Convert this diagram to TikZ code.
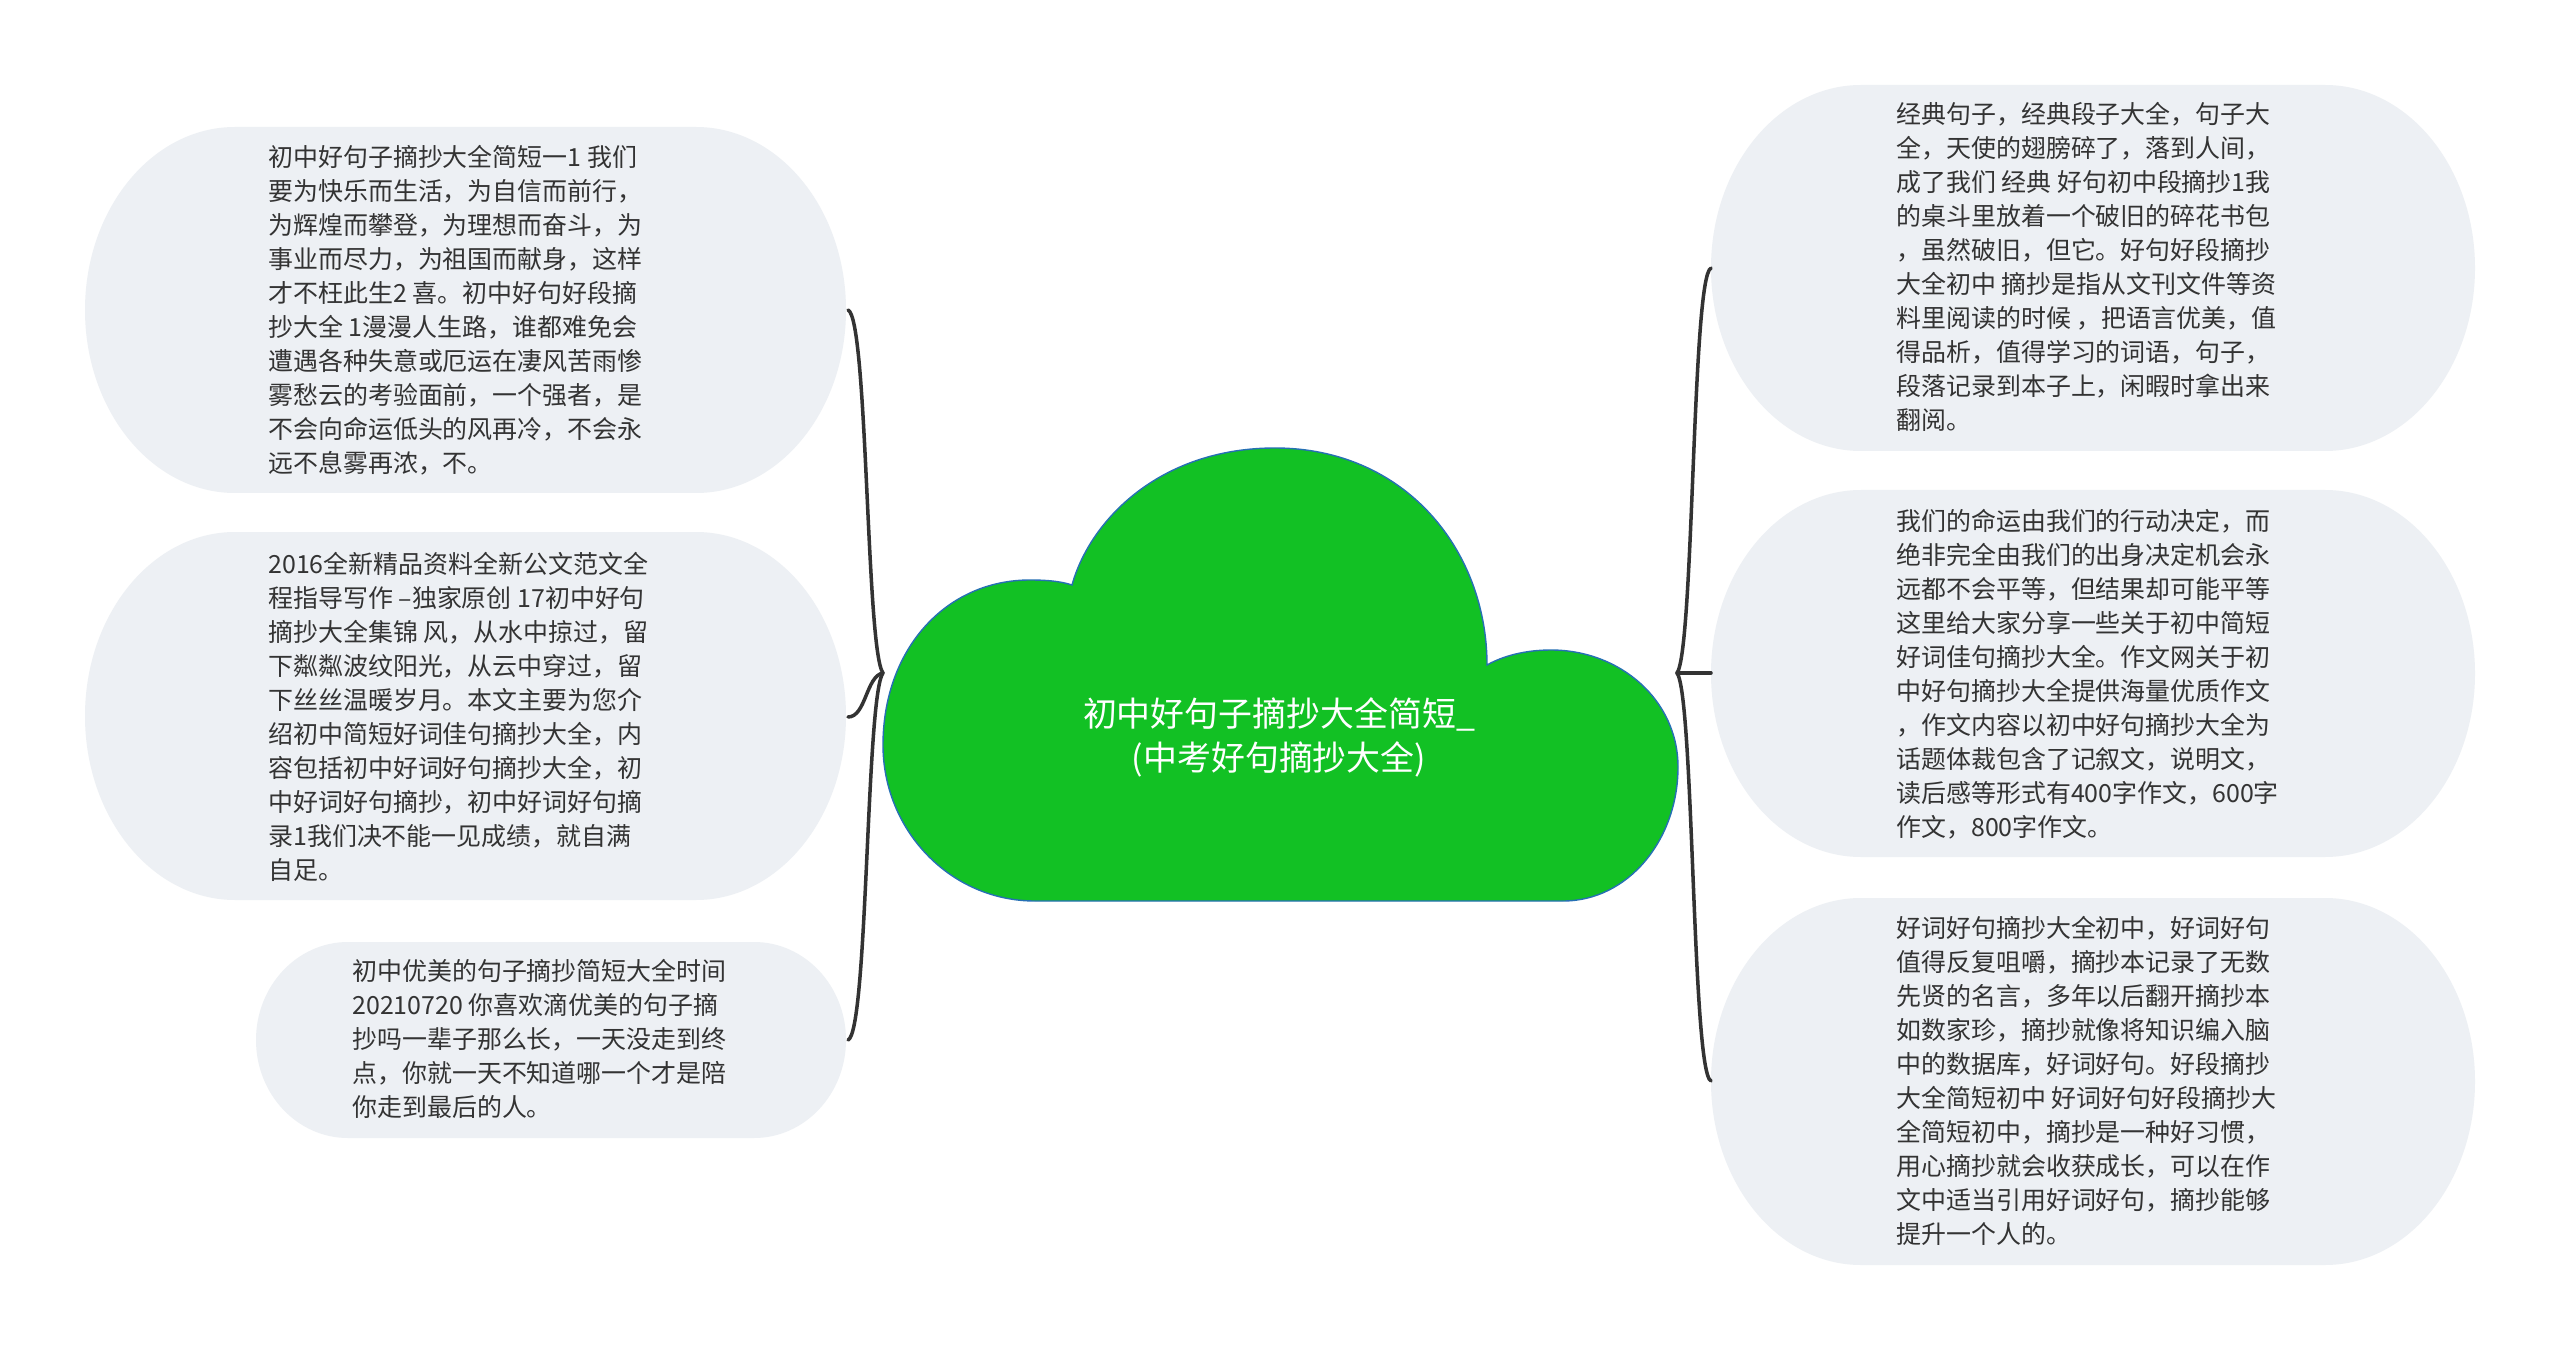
\documentclass[tikz,border=0pt]{standalone}
\usepackage{fontspec}
\setmainfont{Noto Sans CJK SC}
\definecolor{bub}{RGB}{237,240,244}
\definecolor{txt}{RGB}{51,51,51}
\definecolor{cloudfill}{RGB}{18,193,36}
\definecolor{cloudline}{RGB}{38,112,180}
\definecolor{connc}{RGB}{51,51,51}
\newcommand\bubbleshape[5]{%
 \pgfmathsetmacro\bubA{#1+#5}\pgfmathsetmacro\bubB{#3-#5}%
 \pgfmathsetmacro\bubM{(#2+#4)/2}\pgfmathsetmacro\bubR{(#4-#2)/2}%
 \pgfmathsetmacro\bubK{0.5523*#5}\pgfmathsetmacro\bubKK{0.5523*\bubR}%
 \fill[bub] (\bubA,#2) -- (\bubB,#2) .. controls ({\bubB+\bubK},#2) and (#3,{\bubM-\bubKK}) .. (#3,\bubM)
   .. controls (#3,{\bubM+\bubKK}) and ({\bubB+\bubK},#4) .. (\bubB,#4) -- (\bubA,#4)
   .. controls ({\bubA-\bubK},#4) and (#1,{\bubM+\bubKK}) .. (#1,\bubM)
   .. controls (#1,{\bubM-\bubKK}) and ({\bubA-\bubK},#2) .. (\bubA,#2) -- cycle;}
\begin{document}
\begin{tikzpicture}[x=0.02cm,y=-0.02cm,
  bubtext/.style={anchor=north west,inner sep=0pt,align=left,text=txt,
    font=\fontsize{14.2pt}{19.35pt}\selectfont},
  cloudtext/.style={inner sep=0pt,align=center,text=white,
    font=\fontsize{19.3pt}{25pt}\selectfont},
  conn/.style={draw=connc,line width=2pt,line cap=round}]
\useasboundingbox[fill=white] (0,0) rectangle (2560,1351);

% bubbles
\bubbleshape{85}{127}{846}{493}{150}
\bubbleshape{85}{532}{846}{900}{150}
\bubbleshape{256}{942}{846}{1138}{92}
\bubbleshape{1711}{85}{2475}{451}{150}
\bubbleshape{1711}{490}{2475}{857}{150}
\bubbleshape{1711}{898}{2475}{1265}{150}

% cloud
\path[fill=cloudfill,draw=cloudline,line width=0.8pt]
  (1035,901) -- (1563,901)
  .. controls (1628,901) and (1678,840) .. (1678,767)
  .. controls (1678,700) and (1620,650) .. (1551,650)
  .. controls (1525,650) and (1503,656) .. (1487,665)
  .. controls (1487,550) and (1405,448) .. (1275,448)
  .. controls (1160,448) and (1090,520) .. (1072,585)
  .. controls (1060,581) and (1045,580) .. (1030,580)
  .. controls (945,580) and (883,650) .. (883,745)
  .. controls (883,830) and (950,901) .. (1035,901) -- cycle;
\node[cloudtext] (C) at (1279,737) {初中好句子摘抄大全简短\_\\(中考好句摘抄大全)};

% anchor points
\coordinate (CW) at (883,673);
\coordinate (CE) at (1677,673);
\coordinate (L1e) at (848,310);
\coordinate (L2e) at (848,717);
\coordinate (L3e) at (848,1040);
\coordinate (R1w) at (1711,268);
\coordinate (R2w) at (1711,673);
\coordinate (R3w) at (1711,1081);

% connectors
\draw[conn] (L1e) .. controls (868,318) and (866,650) .. (CW);
\draw[conn] (L3e) .. controls (868,1032) and (866,696) .. (CW);
\draw[conn] (L2e) .. controls (866,717) and (866,676) .. (CW);
\draw[conn] (R1w) .. controls (1692,276) and (1694,650) .. (CE);
\draw[conn] (R3w) .. controls (1692,1073) and (1694,696) .. (CE);
\draw[conn] (CE) -- (R2w);

% texts
\node[bubtext] (L1) at (268,145) {初中好句子摘抄大全简短一1 我们\\要为快乐而生活，为自信而前行，\\为辉煌而攀登，为理想而奋斗，为\\事业而尽力，为祖国而献身，这样\\才不枉此生2 喜。初中好句好段摘\\抄大全 1漫漫人生路，谁都难免会\\遭遇各种失意或厄运在凄风苦雨惨\\雾愁云的考验面前，一个强者，是\\不会向命运低头的风再冷，不会永\\远不息雾再浓，不。};
\node[bubtext] (L2) at (268,552) {2016全新精品资料全新公文范文全\\程指导写作 –独家原创 17初中好句\\摘抄大全集锦 风，从水中掠过，留\\下粼粼波纹阳光，从云中穿过，留\\下丝丝温暖岁月。本文主要为您介\\绍初中简短好词佳句摘抄大全，内\\容包括初中好词好句摘抄大全，初\\中好词好句摘抄，初中好词好句摘\\录1我们决不能一见成绩，就自满\\自足。};
\node[bubtext] (L3) at (352,959) {初中优美的句子摘抄简短大全时间\\20210720 你喜欢滴优美的句子摘\\抄吗一辈子那么长，一天没走到终\\点，你就一天不知道哪一个才是陪\\你走到最后的人。};
\node[bubtext] (R1) at (1896,102) {经典句子，经典段子大全，句子大\\全，天使的翅膀碎了，落到人间，\\成了我们 经典 好句初中段摘抄1我\\的桌斗里放着一个破旧的碎花书包\\，虽然破旧，但它。好句好段摘抄\\大全初中 摘抄是指从文刊文件等资\\料里阅读的时候 ，把语言优美，值\\得品析，值得学习的词语，句子，\\段落记录到本子上，闲暇时拿出来\\翻阅。};
\node[bubtext] (R2) at (1896,509) {我们的命运由我们的行动决定，而\\绝非完全由我们的出身决定机会永\\远都不会平等，但结果却可能平等\\这里给大家分享一些关于初中简短\\好词佳句摘抄大全。作文网关于初\\中好句摘抄大全提供海量优质作文\\，作文内容以初中好句摘抄大全为\\话题体裁包含了记叙文，说明文，\\读后感等形式有400字作文，600字\\作文，800字作文。};
\node[bubtext] (R3) at (1896,916) {好词好句摘抄大全初中，好词好句\\值得反复咀嚼，摘抄本记录了无数\\先贤的名言，多年以后翻开摘抄本\\如数家珍，摘抄就像将知识编入脑\\中的数据库，好词好句。好段摘抄\\大全简短初中 好词好句好段摘抄大\\全简短初中，摘抄是一种好习惯，\\用心摘抄就会收获成长，可以在作\\文中适当引用好词好句，摘抄能够\\提升一个人的。};
\end{tikzpicture}
\end{document}
